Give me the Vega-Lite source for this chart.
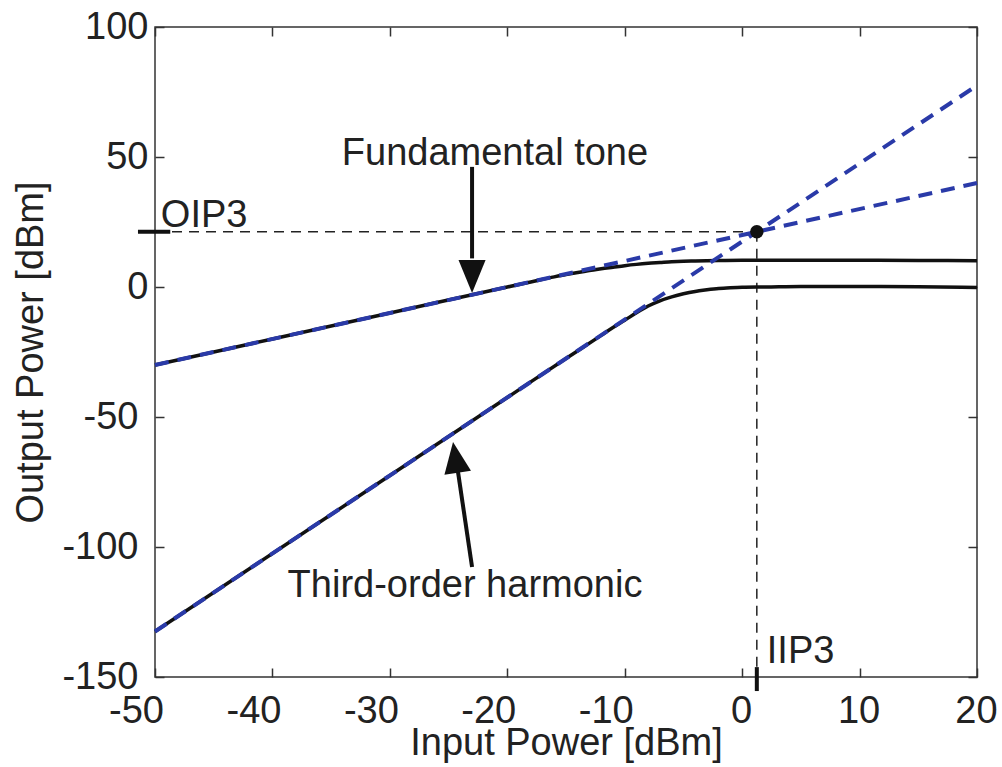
{
  "$schema": "https://vega.github.io/schema/vega-lite/v6.json",
  "width": 822,
  "height": 650,
  "autosize": {"type": "none"},
  "padding": {"left": 155, "top": 27, "right": 25, "bottom": 90},
  "background": "white",
  "config": {
    "view": {"stroke": "#333", "strokeWidth": 1.5},
    "font": "Liberation Sans",
    "axis": {
      "domain": false,
      "grid": false,
      "tickSize": -9,
      "tickWidth": 1.5,
      "tickColor": "#333",
      "labelFont": "Liberation Sans",
      "labelFontSize": 38,
      "labelColor": "#222",
      "titleFont": "Liberation Sans",
      "titleFontSize": 38,
      "titleFontWeight": "normal",
      "titleColor": "#222",
      "labelOverlap": false,
      "labelFlush": false,
      "labelBound": false
    }
  },
  "datasets": {
    "curves": [
      {"series": "fund", "x": -50, "y": -30},
      {"series": "fund", "x": -40, "y": -20},
      {"series": "fund", "x": -30, "y": -10},
      {"series": "fund", "x": -20, "y": 0},
      {"series": "fund", "x": -18, "y": 1.95},
      {"series": "fund", "x": -16, "y": 3.9},
      {"series": "fund", "x": -15, "y": 4.8},
      {"series": "fund", "x": -14, "y": 5.6},
      {"series": "fund", "x": -13, "y": 6.3},
      {"series": "fund", "x": -12, "y": 7.0},
      {"series": "fund", "x": -11, "y": 7.6},
      {"series": "fund", "x": -10, "y": 8.2},
      {"series": "fund", "x": -9, "y": 8.7},
      {"series": "fund", "x": -8, "y": 9.1},
      {"series": "fund", "x": -7, "y": 9.4},
      {"series": "fund", "x": -6, "y": 9.7},
      {"series": "fund", "x": -5, "y": 9.9},
      {"series": "fund", "x": -4, "y": 10.0},
      {"series": "fund", "x": -3, "y": 10.1},
      {"series": "fund", "x": -2, "y": 10.2},
      {"series": "fund", "x": 0, "y": 10.3},
      {"series": "fund", "x": 2, "y": 10.3},
      {"series": "fund", "x": 5, "y": 10.3},
      {"series": "fund", "x": 10, "y": 10.3},
      {"series": "fund", "x": 15, "y": 10.2},
      {"series": "fund", "x": 20, "y": 10.1},
      {"series": "third", "x": -50, "y": -132.5},
      {"series": "third", "x": -30, "y": -72.5},
      {"series": "third", "x": -20, "y": -42.5},
      {"series": "third", "x": -15, "y": -27.5},
      {"series": "third", "x": -12, "y": -18.6},
      {"series": "third", "x": -11, "y": -15.6},
      {"series": "third", "x": -10, "y": -12.8},
      {"series": "third", "x": -9, "y": -9.9},
      {"series": "third", "x": -8, "y": -7.3},
      {"series": "third", "x": -7, "y": -5.3},
      {"series": "third", "x": -6, "y": -3.8},
      {"series": "third", "x": -5, "y": -2.6},
      {"series": "third", "x": -4, "y": -1.7},
      {"series": "third", "x": -3, "y": -1.1},
      {"series": "third", "x": -2, "y": -0.6},
      {"series": "third", "x": -1, "y": -0.3},
      {"series": "third", "x": 0, "y": -0.1},
      {"series": "third", "x": 2, "y": 0},
      {"series": "third", "x": 5, "y": 0.2},
      {"series": "third", "x": 10, "y": 0.2},
      {"series": "third", "x": 15, "y": 0.1},
      {"series": "third", "x": 20, "y": -0.2}
    ],
    "linear": [
      {"series": "fund", "x": -50, "y": -30},
      {"series": "fund", "x": 20, "y": 40},
      {"series": "third", "x": -50, "y": -132.5},
      {"series": "third", "x": 20, "y": 77.5}
    ],
    "guides": [
      {"x": -50, "y": 21.25, "x2": 1.25, "y2": 21.25},
      {"x": 1.25, "y": 21.25, "x2": 1.25, "y2": -150}
    ],
    "ip3ticks": [
      {"x": -51.45, "y": 21.25, "x2": -48.7, "y2": 21.25},
      {"x": 1.25, "y": -146.2, "x2": 1.25, "y2": -155.4}
    ],
    "ip3": [{"x": 1.25, "y": 21.25}],
    "shafts": [
      {"name": "fund", "x": -23.0, "y": 46.2, "x2": -23.0, "y2": 11},
      {"name": "third", "x": -23.0, "y": -107.7, "x2": -24.2, "y2": -71.0}
    ],
    "headFund": [{"x": -23.0, "y": -2.3}],
    "headThird": [{"x": -24.62, "y": -59.6}],
    "labelsCenter": [
      {"x": -21.05, "y": 46.9, "text": "Fundamental tone"},
      {"x": -23.6, "y": -119.2, "text": "Third-order harmonic"}
    ],
    "labelsLeft": [
      {"x": -49.5, "y": 23.1, "text": "OIP3"},
      {"x": 2.1, "y": -144.6, "text": "IIP3"}
    ]
  },
  "resolve": {"axis": {"x": "independent", "y": "independent"}},
  "layer": [
    {
      "data": {"name": "guides"},
      "mark": {"type": "rule", "color": "#222", "strokeWidth": 1.5, "strokeDash": [10, 7]},
      "encoding": {
        "x": {"field": "x", "type": "quantitative", "scale": {"domain": [-50, 20], "nice": false, "zero": false},
          "axis": {"orient": "bottom", "values": [-50, -40, -30, -20, -10, 0, 10, 20], "labelExpr": "datum.value + ''", "labelPadding": 24, "title": "Input Power [dBm]", "titlePadding": -6,
            "labelAlign": "center",
            "labelOffset": {"condition": {"test": "datum.value < 0", "value": -19}, "value": -1}}},
        "y": {"field": "y", "type": "quantitative", "scale": {"domain": [-150, 100], "nice": false, "zero": false},
          "axis": {"orient": "left", "values": [-150, -100, -50, 0, 50, 100], "labelExpr": "datum.value + ''",
            "labelPadding": {"condition": {"test": "datum.value < 0", "value": 26}, "value": 16},
            "title": "Output Power [dBm]", "titlePadding": 11}},
        "x2": {"field": "x2"},
        "y2": {"field": "y2"}
      }
    },
    {
      "data": {"name": "curves"},
      "mark": {"type": "line", "color": "#111", "strokeWidth": 3.5, "interpolate": "monotone"},
      "encoding": {
        "x": {"field": "x", "type": "quantitative",
          "axis": {"orient": "top", "values": [-50, -40, -30, -20, -10, 0, 10, 20], "labels": false, "title": null}},
        "y": {"field": "y", "type": "quantitative",
          "axis": {"orient": "right", "values": [-150, -100, -50, 0, 50, 100], "labels": false, "title": null}},
        "detail": {"field": "series"}
      }
    },
    {
      "data": {"name": "linear"},
      "mark": {"type": "line", "color": "#2a3aa8", "strokeWidth": 4, "strokeDash": [14, 9]},
      "encoding": {
        "x": {"field": "x", "type": "quantitative", "axis": null},
        "y": {"field": "y", "type": "quantitative", "axis": null},
        "detail": {"field": "series"}
      }
    },
    {
      "data": {"name": "ip3"},
      "mark": {"type": "point", "shape": "circle", "filled": true, "color": "#111", "size": 180, "opacity": 1},
      "encoding": {
        "x": {"field": "x", "type": "quantitative", "axis": null},
        "y": {"field": "y", "type": "quantitative", "axis": null}
      }
    },
    {
      "data": {"name": "ip3ticks"},
      "mark": {"type": "rule", "color": "#111", "strokeWidth": 4},
      "encoding": {
        "x": {"field": "x", "type": "quantitative", "axis": null},
        "y": {"field": "y", "type": "quantitative", "axis": null},
        "x2": {"field": "x2"},
        "y2": {"field": "y2"}
      }
    },
    {
      "data": {"name": "shafts"},
      "mark": {"type": "rule", "color": "#111", "strokeWidth": 4},
      "encoding": {
        "x": {"field": "x", "type": "quantitative", "axis": null},
        "y": {"field": "y", "type": "quantitative", "axis": null},
        "x2": {"field": "x2"},
        "y2": {"field": "y2"}
      }
    },
    {
      "data": {"name": "headFund"},
      "mark": {"type": "point", "shape": "M0,0L-0.41,-1L0.41,-1Z", "filled": true, "color": "#111", "size": 4356, "opacity": 1, "strokeWidth": 0},
      "encoding": {
        "x": {"field": "x", "type": "quantitative", "axis": null},
        "y": {"field": "y", "type": "quantitative", "axis": null}
      }
    },
    {
      "data": {"name": "headThird"},
      "mark": {"type": "point", "shape": "M0,0L-0.43,-1L0.43,-1Z", "filled": true, "color": "#111", "size": 3900, "angle": 171.4, "opacity": 1, "strokeWidth": 0},
      "encoding": {
        "x": {"field": "x", "type": "quantitative", "axis": null},
        "y": {"field": "y", "type": "quantitative", "axis": null}
      }
    },
    {
      "data": {"name": "labelsCenter"},
      "mark": {"type": "text", "font": "Liberation Sans", "fontSize": 38, "color": "#222", "align": "center", "baseline": "alphabetic"},
      "encoding": {
        "x": {"field": "x", "type": "quantitative", "axis": null},
        "y": {"field": "y", "type": "quantitative", "axis": null},
        "text": {"field": "text"}
      }
    },
    {
      "data": {"name": "labelsLeft"},
      "mark": {"type": "text", "font": "Liberation Sans", "fontSize": 38, "color": "#222", "align": "left", "baseline": "alphabetic"},
      "encoding": {
        "x": {"field": "x", "type": "quantitative", "axis": null},
        "y": {"field": "y", "type": "quantitative", "axis": null},
        "text": {"field": "text"}
      }
    }
  ]
}
